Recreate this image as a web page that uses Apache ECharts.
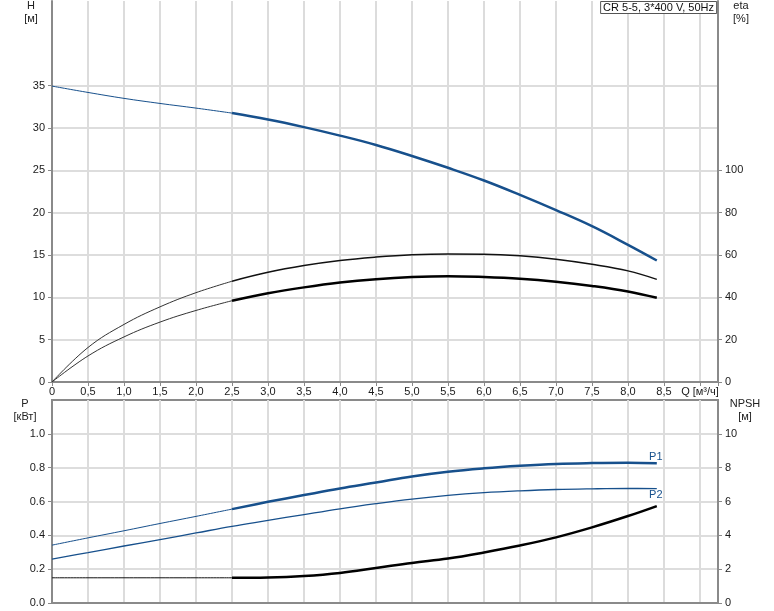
<!DOCTYPE html>
<html>
<head>
<meta charset="utf-8">
<script src="https://cdn.jsdelivr.net/npm/echarts@6/dist/echarts.min.js"></script>
<style>
html,body{margin:0;padding:0;background:#fff;}
#c{width:774px;height:611px;}
</style>
</head>
<body>
<div id="c"></div>
<script>
// ---- data ----
const q        = [0, 0.5, 1, 1.5, 2, 2.5, 3, 3.5, 4, 4.5, 5, 5.5, 6, 6.5, 7, 7.5, 8, 8.4];
const head     = [34.95, 34.2, 33.5, 32.9, 32.35, 31.76, 31.0, 30.1, 29.1, 28.0, 26.7, 25.3, 23.8, 22.1, 20.3, 18.4, 16.2, 14.35];
const etaPump  = [0, 16.3, 27.2, 35.5, 42.2, 47.6, 51.8, 55.0, 57.4, 59.0, 60.1, 60.5, 60.4, 59.6, 58.0, 55.6, 52.5, 48.5];
const etaTotal = [0, 12.3, 21.3, 28.3, 33.8, 38.4, 41.9, 44.7, 47.0, 48.6, 49.6, 50.0, 49.6, 48.8, 47.4, 45.4, 42.8, 39.8];
const p1       = [0.342, 0.385, 0.427, 0.470, 0.512, 0.555, 0.598, 0.638, 0.677, 0.712, 0.748, 0.776, 0.796, 0.811, 0.822, 0.827, 0.829, 0.826];
const p2       = [0.259, 0.298, 0.337, 0.375, 0.414, 0.453, 0.488, 0.523, 0.557, 0.587, 0.614, 0.636, 0.652, 0.663, 0.671, 0.675, 0.677, 0.676];
const npsh     = [1.49, 1.49, 1.49, 1.49, 1.49, 1.49, 1.51, 1.60, 1.78, 2.07, 2.37, 2.63, 2.99, 3.40, 3.88, 4.47, 5.14, 5.73];
const splitQ   = 2.5;

const qTicks    = [0, 0.5, 1, 1.5, 2, 2.5, 3, 3.5, 4, 4.5, 5, 5.5, 6, 6.5, 7, 7.5, 8, 8.5, 9];
const hTicks    = [0, 5, 10, 15, 20, 25, 30, 35];
const etaTicks  = [0, 20, 40, 60, 80, 100];
const pTicks    = [0, 0.2, 0.4, 0.6, 0.8, 1.0];
const npshTicks = [0, 2, 4, 6, 8, 10];
const qAxisName = 'Q [м³/ч]';
const titleText = 'CR 5-5, 3*400 V, 50Hz';

// ---- styles ----
const FONT = "'Liberation Sans', Arial, sans-serif";
const BLUE = '#17508c';
const AX = '#8a8a8a';
const txt = {fontFamily: FONT, fontSize: 11, color: '#1a1a1a'};

function seg(arr, part) {
  const out = [];
  q.forEach((x, i) => {
    if (part === 'all' || (part === 'thin' && x <= splitQ) || (part === 'thick' && x >= splitQ)) out.push([x, arr[i]]);
  });
  return out;
}
function withEndLabel(points, text, pos) {
  const d = points.map(p => ({value: p, symbol: 'none'}));
  d[d.length - 1] = {value: points[points.length - 1], symbol: 'circle', symbolSize: 0.1,
    label: {show: true, formatter: text, position: pos, distance: 1, offset: [-1, 0],
            fontFamily: FONT, fontSize: 11, color: BLUE}};
  return d;
}
function line(name, data, xi, yi, color, width) {
  return {name, type: 'line', data, xAxisIndex: xi, yAxisIndex: yi, smooth: 0.4,
    symbol: 'none', showAllSymbol: true, silent: true,
    lineStyle: {color, width}, itemStyle: {color}, z: 3};
}

const axisLineS = {show: true, onZero: false, lineStyle: {color: AX, width: 2}};
const tickS = {show: true, length: 4, lineStyle: {color: AX, width: 1}};
const vSplit = {show: true, lineStyle: {color: '#dcdcdc', width: 2}};
const hSplit = {show: true, lineStyle: {color: '#d2d2d2', width: 1.5}};
const fmtQ = v => v > 9.01 ? '' : (v > 8.51 ? qAxisName : (v === 0 ? '0' : v.toFixed(1).replace('.', ',')));

const option = {
  backgroundColor: '#fff',
  animation: false,
  title: {
    text: titleText, right: 57, top: 1,
    backgroundColor: '#fff', borderColor: '#555', borderWidth: 1, padding: [1, 3, 1, 3],
    textStyle: {fontFamily: FONT, fontSize: 11, fontWeight: 'normal', color: '#111'}
  },
  grid: [
    {left: 52, right: 56, top: 1, height: 381, containLabel: false},
    {left: 52, right: 56, top: 400, height: 203, containLabel: false, show: true, borderColor: AX, borderWidth: 2}
  ],
  xAxis: [
    {type: 'value', gridIndex: 0, min: 0, max: 9.25, interval: 0.5,
     axisLine: axisLineS, axisTick: tickS, splitLine: vSplit,
     axisLabel: Object.assign({margin: 4, formatter: fmtQ, customValues: qTicks}, txt)},
    {type: 'value', gridIndex: 1, min: 0, max: 9.25, interval: 0.5,
     axisLine: axisLineS, axisTick: {show: false}, splitLine: vSplit, axisLabel: {show: false}}
  ],
  yAxis: [
    {type: 'value', gridIndex: 0, min: 0, max: 45, interval: 5, position: 'left',
     axisLine: axisLineS, axisTick: Object.assign({customValues: hTicks}, tickS), splitLine: hSplit,
     axisLabel: Object.assign({margin: 7, customValues: hTicks, formatter: v => String(v)}, txt)},
    {type: 'value', gridIndex: 0, min: 0, max: 180, interval: 20, position: 'right',
     axisLine: axisLineS, axisTick: Object.assign({customValues: etaTicks}, tickS), splitLine: {show: false},
     axisLabel: Object.assign({margin: 7, customValues: etaTicks, formatter: v => String(v)}, txt)},
    {type: 'value', gridIndex: 1, min: 0, max: 1.2, interval: 0.2, position: 'left',
     axisLine: axisLineS, axisTick: Object.assign({customValues: pTicks}, tickS), splitLine: hSplit,
     axisLabel: Object.assign({margin: 7, customValues: pTicks, formatter: v => v.toFixed(1)}, txt)},
    {type: 'value', gridIndex: 1, min: 0, max: 12, interval: 2, position: 'right',
     axisLine: axisLineS, axisTick: Object.assign({customValues: npshTicks}, tickS), splitLine: {show: false},
     axisLabel: Object.assign({margin: 7, customValues: npshTicks, formatter: v => String(v)}, txt)}
  ],
  graphic: [
    {type: 'text', x: 31, y: 0, style: {text: 'H\n[м]', font: "11px " + FONT, fill: '#222', align: 'center', lineHeight: 12.5}},
    {type: 'text', x: 741, y: 0, style: {text: 'eta\n[%]', font: "11px " + FONT, fill: '#222', align: 'center', lineHeight: 12.5}},
    {type: 'text', x: 25, y: 397, style: {text: 'P\n[кВт]', font: "11px " + FONT, fill: '#222', align: 'center', lineHeight: 13}},
    {type: 'text', x: 745, y: 397, style: {text: 'NPSH\n[м]', font: "11px " + FONT, fill: '#222', align: 'center', lineHeight: 13}}
  ],
  series: [
    line('H', seg(head, 'thin'), 0, 0, BLUE, 1),
    line('H', seg(head, 'thick'), 0, 0, BLUE, 2.5),
    line('eta', seg(etaPump, 'thin'), 0, 1, '#333', 1),
    line('eta', seg(etaPump, 'thick'), 0, 1, '#111', 1.5),
    line('eta total', seg(etaTotal, 'thin'), 0, 1, '#333', 1),
    line('eta total', seg(etaTotal, 'thick'), 0, 1, '#000', 2.5),
    line('P1', seg(p1, 'thin'), 1, 2, BLUE, 1),
    line('P1', withEndLabel(seg(p1, 'thick'), 'P1', 'top'), 1, 2, BLUE, 2.5),
    line('P2', withEndLabel(seg(p2, 'all'), 'P2', 'bottom'), 1, 2, BLUE, 1.3),
    line('NPSH', seg(npsh, 'thin'), 1, 3, '#111', 1),
    line('NPSH', seg(npsh, 'thick'), 1, 3, '#000', 2.5)
  ]
};
const chart = echarts.init(document.getElementById('c'), null, {renderer: 'canvas'});
chart.setOption(option);
</script>
</body>
</html>
